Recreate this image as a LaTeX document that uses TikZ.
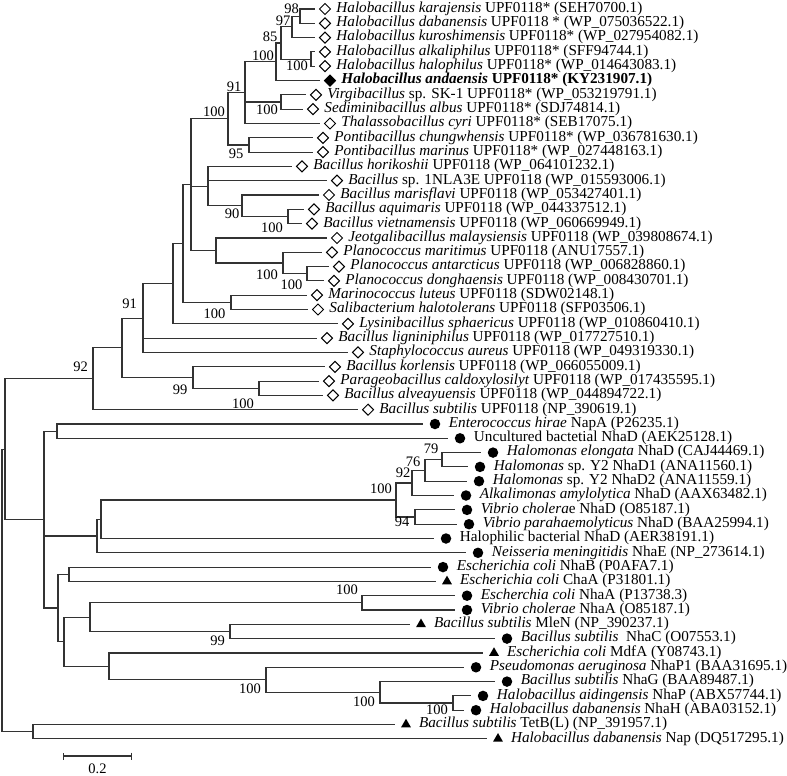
\documentclass[tikz,border=0pt]{standalone}
\usepackage{fontspec}
\setmainfont{Liberation Serif}
\usepackage{tikz}
\usetikzlibrary{arrows.meta,positioning,shapes.geometric}

\begin{document}
\begin{tikzpicture}[x=1pt,y=-1pt,
    treeline/.style={line width=1.1pt,draw=black!80},
    leafdia/.style={regular polygon,regular polygon sides=4,shape border rotate=45,draw=black,line width=1pt,fill=white,inner sep=0pt,minimum size=11pt,outer sep=3pt},
    leafdiaf/.style={leafdia,fill=black},
    leafdot/.style={circle,fill=black,inner sep=0pt,minimum size=10.5pt,outer sep=7pt},
    leaftri/.style={regular polygon,regular polygon sides=3,fill=black,inner sep=0pt,minimum size=11.5pt,outer sep=7pt},
    leaftext/.style={anchor=west,inner sep=1.5pt,text height=10pt,text depth=3.3pt,font=\fontsize{15.2pt}{16.5pt}\selectfont},
    boot/.style={inner sep=0pt,font=\fontsize{14.5pt}{16pt}\selectfont}]
    \useasboundingbox (0,0) rectangle (787,776);

    % UPF0118 leaves
    \node[leafdia] (l1) at (325,9.0) {};
    \node[leaftext,right=0pt of l1] (t1) {\textit{Halobacillus karajensis} UPF0118* (SEH70700.1)};
    \node[leafdia] (l2) at (325,23.3) {};
    \node[leaftext,right=0pt of l2] (t2) {\textit{Halobacillus dabanensis} UPF0118 * (WP\_075036522.1)};
    \node[leafdia] (l3) at (325,37.6) {};
    \node[leaftext,right=0pt of l3] (t3) {\textit{Halobacillus kuroshimensis} UPF0118* (WP\_027954082.1)};
    \node[leafdia] (l4) at (325,51.9) {};
    \node[leaftext,right=0pt of l4] (t4) {\textit{Halobacillus alkaliphilus} UPF0118* (SFF94744.1)};
    \node[leafdia] (l5) at (325,66.2) {};
    \node[leaftext,right=0pt of l5] (t5) {\textit{Halobacillus halophilus} UPF0118* (WP\_014643083.1)};
    \node[leafdiaf] (l6) at (330,80.6) {};
    \node[leaftext,right=0pt of l6] (t6) {\textbf{\textit{Halobacillus andaensis} UPF0118* (KY231907.1)}};
    \node[leafdia] (l7) at (316,94.9) {};
    \node[leaftext,right=0pt of l7] (t7) {\textit{Virgibacillus} sp. SK-1 UPF0118* (WP\_053219791.1)};
    \node[leafdia] (l8) at (313,109.2) {};
    \node[leaftext,right=0pt of l8] (t8) {\textit{Sediminibacillus albus} UPF0118* (SDJ74814.1)};
    \node[leafdia] (l9) at (330,123.5) {};
    \node[leaftext,right=0pt of l9] (t9) {\textit{Thalassobacillus cyri} UPF0118* (SEB17075.1)};
    \node[leafdia] (l10) at (323,137.8) {};
    \node[leaftext,right=0pt of l10] (t10) {\textit{Pontibacillus chungwhensis} UPF0118* (WP\_036781630.1)};
    \node[leafdia] (l11) at (323,152.1) {};
    \node[leaftext,right=0pt of l11] (t11) {\textit{Pontibacillus marinus} UPF0118* (WP\_027448163.1)};
    \node[leafdia] (l12) at (302,166.4) {};
    \node[leaftext,right=0pt of l12] (t12) {\textit{Bacillus horikoshii} UPF0118 (WP\_064101232.1)};
    \node[leafdia] (l13) at (337,180.7) {};
    \node[leaftext,right=0pt of l13] (t13) {\textit{Bacillus} sp. 1NLA3E UPF0118 (WP\_015593006.1)};
    \node[leafdia] (l14) at (329,195.0) {};
    \node[leaftext,right=0pt of l14] (t14) {\textit{Bacillus marisflavi} UPF0118 (WP\_053427401.1)};
    \node[leafdia] (l15) at (314,209.3) {};
    \node[leaftext,right=0pt of l15] (t15) {\textit{Bacillus aquimaris} UPF0118 (WP\_044337512.1)};
    \node[leafdia] (l16) at (312,223.7) {};
    \node[leaftext,right=0pt of l16] (t16) {\textit{Bacillus vietnamensis} UPF0118 (WP\_060669949.1)};
    \node[leafdia] (l17) at (337,238.0) {};
    \node[leaftext,right=0pt of l17] (t17) {\textit{Jeotgalibacillus malaysiensis} UPF0118 (WP\_039808674.1)};
    \node[leafdia] (l18) at (332,252.3) {};
    \node[leaftext,right=0pt of l18] (t18) {\textit{Planococcus maritimus} UPF0118 (ANU17557.1)};
    \node[leafdia] (l19) at (339,266.6) {};
    \node[leaftext,right=0pt of l19] (t19) {\textit{Planococcus antarcticus} UPF0118 (WP\_006828860.1)};
    \node[leafdia] (l20) at (334,280.9) {};
    \node[leaftext,right=0pt of l20] (t20) {\textit{Planococcus donghaensis} UPF0118 (WP\_008430701.1)};
    \node[leafdia] (l21) at (317,295.2) {};
    \node[leaftext,right=0pt of l21] (t21) {\textit{Marinococcus luteus} UPF0118 (SDW02148.1)};
    \node[leafdia] (l22) at (318,309.5) {};
    \node[leaftext,right=0pt of l22] (t22) {\textit{Salibacterium halotolerans} UPF0118 (SFP03506.1)};
    \node[leafdia] (l23) at (348,323.8) {};
    \node[leaftext,right=0pt of l23] (t23) {\textit{Lysinibacillus sphaericus} UPF0118 (WP\_010860410.1)};
    \node[leafdia] (l24) at (327,338.1) {};
    \node[leaftext,right=0pt of l24] (t24) {\textit{Bacillus ligniniphilus} UPF0118 (WP\_017727510.1)};
    \node[leafdia] (l25) at (358,352.4) {};
    \node[leaftext,right=0pt of l25] (t25) {\textit{Staphylococcus aureus} UPF0118 (WP\_049319330.1)};
    \node[leafdia] (l26) at (335,366.8) {};
    \node[leaftext,right=0pt of l26] (t26) {\textit{Bacillus korlensis} UPF0118 (WP\_066055009.1)};
    \node[leafdia] (l27) at (329,381.1) {};
    \node[leaftext,right=0pt of l27] (t27) {\textit{Parageobacillus caldoxylosilyt} UPF0118 (WP\_017435595.1)};
    \node[leafdia] (l28) at (333,395.4) {};
    \node[leaftext,right=0pt of l28] (t28) {\textit{Bacillus alveayuensis} UPF0118 (WP\_044894722.1)};
    \node[leafdia] (l29) at (368,409.7) {};
    \node[leaftext,right=0pt of l29] (t29) {\textit{Bacillus subtilis} UPF0118 (NP\_390619.1)};

    % antiporter leaves
    \node[leafdot] (l30) at (435,424.0) {};
    \node[leaftext,right=0pt of l30] (t30) {\textit{Enterococcus hirae} NapA (P26235.1)};
    \node[leafdot] (l31) at (460,438.3) {};
    \node[leaftext,right=0pt of l31] (t31) {Uncultured bactetial NhaD (AEK25128.1)};
    \node[leafdot] (l32) at (493,452.6) {};
    \node[leaftext,right=0pt of l32] (t32) {\textit{Halomonas elongata} NhaD (CAJ44469.1)};
    \node[leafdot] (l33) at (480,466.9) {};
    \node[leaftext,right=0pt of l33] (t33) {\textit{Halomonas} sp. Y2 NhaD1 (ANA11560.1)};
    \node[leafdot] (l34) at (479,481.2) {};
    \node[leaftext,right=0pt of l34] (t34) {\textit{Halomonas} sp. Y2 NhaD2 (ANA11559.1)};
    \node[leafdot] (l35) at (466,495.5) {};
    \node[leaftext,right=0pt of l35] (t35) {\textit{Alkalimonas amylolytica} NhaD (AAX63482.1)};
    \node[leafdot] (l36) at (467,509.9) {};
    \node[leaftext,right=0pt of l36] (t36) {\textit{Vibrio cholera}e NhaD (O85187.1)};
    \node[leafdot] (l37) at (469,524.2) {};
    \node[leaftext,right=0pt of l37] (t37) {\textit{Vibrio parahaemolyticus} NhaD (BAA25994.1)};
    \node[leafdot] (l38) at (446,538.5) {};
    \node[leaftext,right=0pt of l38] (t38) {Halophilic bacterial NhaD (AER38191.1)};
    \node[leafdot] (l39) at (478,552.8) {};
    \node[leaftext,right=0pt of l39] (t39) {\textit{Neisseria meningitidis} NhaE (NP\_273614.1)};
    \node[leafdot] (l40) at (443,567.1) {};
    \node[leaftext,right=0pt of l40] (t40) {\textit{Escherichia coli} NhaB (P0AFA7.1)};
    \node[leaftri] (l41) at (447,581.4) {};
    \node[leaftext,right=0pt of l41] (t41) {\textit{Escherichia coli} ChaA (P31801.1)};
    \node[leafdot] (l42) at (467,595.7) {};
    \node[leaftext,right=0pt of l42] (t42) {\textit{Escherchia coli} NhaA (P13738.3)};
    \node[leafdot] (l43) at (467,610.0) {};
    \node[leaftext,right=0pt of l43] (t43) {\textit{Vibrio cholerae} NhaA (O85187.1)};
    \node[leaftri] (l44) at (421,624.3) {};
    \node[leaftext,right=0pt of l44] (t44) {\textit{Bacillus subtilis} MleN (NP\_390237.1)};
    \node[leafdot] (l45) at (507,638.6) {};
    \node[leaftext,right=0pt of l45] (t45) {\textit{Bacillus subtilis}~ NhaC (O07553.1)};
    \node[leaftri] (l46) at (494,653.0) {};
    \node[leaftext,right=0pt of l46] (t46) {\textit{Escherichia coli} MdfA (Y08743.1)};
    \node[leafdot] (l47) at (476,667.3) {};
    \node[leaftext,right=0pt of l47] (t47) {\textit{Pseudomonas aeruginosa} NhaP1 (BAA31695.1)};
    \node[leafdot] (l48) at (507,681.6) {};
    \node[leaftext,right=0pt of l48] (t48) {\textit{Bacillus subtilis} NhaG (BAA89487.1)};
    \node[leafdot] (l49) at (483,695.9) {};
    \node[leaftext,right=0pt of l49] (t49) {\textit{Halobacillus aidingensis} NhaP (ABX57744.1)};
    \node[leafdot] (l50) at (476,710.2) {};
    \node[leaftext,right=0pt of l50] (t50) {\textit{Halobacillus dabanensis} NhaH (ABA03152.1)};
    \node[leaftri] (l51) at (406,724.5) {};
    \node[leaftext,right=0pt of l51] (t51) {\textit{Bacillus subtilis} TetB(L) (NP\_391957.1)};
    \node[leaftri] (l52) at (498,738.8) {};
    \node[leaftext,right=0pt of l52] (t52) {\textit{Halobacillus dabanensis} Nap (DQ517295.1)};

    % internal nodes
    \coordinate (a98) at (300,16.2);
    \coordinate (a97) at (292,26.9);
    \coordinate (a100h) at (311,59.1);
    \coordinate (a85) at (281,43.0);
    \coordinate (a100a) at (276,61.8);
    \coordinate (a100v) at (281,102.0);
    \coordinate (a91) at (245,92.6);
    \coordinate (a95) at (249,145.0);
    \coordinate (a100p) at (228,118.8);
    \coordinate (a100q) at (288,216.5);
    \coordinate (a90) at (242,205.8);
    \coordinate (bh) at (208,186.1);
    \coordinate (a100r) at (307,273.7);
    \coordinate (a100s) at (283,263.0);
    \coordinate (bj) at (216,250.5);
    \coordinate (a100t) at (191,184.7);
    \coordinate (a100m) at (231,302.4);
    \coordinate (bm) at (183,243.5);
    \coordinate (bl) at (173,283.7);
    \coordinate (a91b) at (143,318.1);
    \coordinate (a100k) at (259,388.2);
    \coordinate (a99) at (193,377.5);
    \coordinate (bk) at (122,347.8);
    \coordinate (a92) at (93,378.7);
    \coordinate (be) at (57,431.1);
    \coordinate (b79) at (442,459.8);
    \coordinate (b76) at (425,470.5);
    \coordinate (b92) at (412,483.0);
    \coordinate (b94) at (415,517.0);
    \coordinate (b100) at (396,500.0);
    \coordinate (bn) at (101,519.2);
    \coordinate (bo) at (97,536.0);
    \coordinate (bc) at (69,574.2);
    \coordinate (c100) at (362,602.9);
    \coordinate (c99) at (230,631.5);
    \coordinate (ca) at (90,617.2);
    \coordinate (c100b) at (453,703.0);
    \coordinate (c100c) at (380,692.3);
    \coordinate (c100d) at (266,679.8);
    \coordinate (cm) at (109,666.4);
    \coordinate (cb) at (64,641.8);
    \coordinate (cc) at (58,608.0);
    \coordinate (bb) at (44,519.6);
    \coordinate (r1) at (5,449.1);
    \coordinate (ct) at (33,731.7);
    \coordinate (root) at (2,590.4);

    % branches
    \draw[treeline] (a98) |- (l1) (a98) |- (l2);
    \draw[treeline] (a97) |- (a98) (a97) |- (l3);
    \draw[treeline] (a100h) |- (l4) (a100h) |- (l5);
    \draw[treeline] (a85) |- (a97) (a85) |- (a100h);
    \draw[treeline] (a100a) |- (a85) (a100a) |- (l6);
    \draw[treeline] (a100v) |- (l7) (a100v) |- (l8);
    \draw[treeline] (a91) |- (a100a) (a91) |- (a100v) (a91) |- (l9);
    \draw[treeline] (a95) |- (l10) (a95) |- (l11);
    \draw[treeline] (a100p) |- (a91) (a100p) |- (a95);
    \draw[treeline] (a100q) |- (l15) (a100q) |- (l16);
    \draw[treeline] (a90) |- (l14) (a90) |- (a100q);
    \draw[treeline] (bh) |- (l12) (bh) |- (l13) (bh) |- (a90);
    \draw[treeline] (a100r) |- (l19) (a100r) |- (l20);
    \draw[treeline] (a100s) |- (l18) (a100s) |- (a100r);
    \draw[treeline] (bj) |- (l17) (bj) |- (a100s);
    \draw[treeline] (a100t) |- (a100p) (a100t) |- (bh) (a100t) |- (bj);
    \draw[treeline] (a100m) |- (l21) (a100m) |- (l22);
    \draw[treeline] (bm) |- (a100t) (bm) |- (a100m);
    \draw[treeline] (bl) |- (bm) (bl) |- (l23);
    \draw[treeline] (a91b) |- (bl) (a91b) |- (l24) (a91b) |- (l25);
    \draw[treeline] (a100k) |- (l27) (a100k) |- (l28);
    \draw[treeline] (a99) |- (l26) (a99) |- (a100k);
    \draw[treeline] (bk) |- (a91b) (bk) |- (a99);
    \draw[treeline] (a92) |- (bk) (a92) |- (l29);
    \draw[treeline] (be) |- (l30) (be) |- (l31);
    \draw[treeline] (b79) |- (l32) (b79) |- (l33);
    \draw[treeline] (b76) |- (b79) (b76) |- (l34);
    \draw[treeline] (b92) |- (b76) (b92) |- (l35);
    \draw[treeline] (b94) |- (l36) (b94) |- (l37);
    \draw[treeline] (b100) |- (b92) (b100) |- (b94);
    \draw[treeline] (bn) |- (b100) (bn) |- (l38);
    \draw[treeline] (bo) |- (bn) (bo) |- (l39);
    \draw[treeline] (bc) |- (l40) (bc) |- (l41);
    \draw[treeline] (c100) |- (l42) (c100) |- (l43);
    \draw[treeline] (c99) |- (l44) (c99) |- (l45);
    \draw[treeline] (ca) |- (c100) (ca) |- (c99);
    \draw[treeline] (c100b) |- (l49) (c100b) |- (l50);
    \draw[treeline] (c100c) |- (l48) (c100c) |- (c100b);
    \draw[treeline] (c100d) |- (l47) (c100d) |- (c100c);
    \draw[treeline] (cm) |- (l46) (cm) |- (c100d);
    \draw[treeline] (cb) |- (ca) (cb) |- (cm);
    \draw[treeline] (cc) |- (bc) (cc) |- (cb);
    \draw[treeline] (bb) |- (be) (bb) |- (bo) (bb) |- (cc);
    \draw[treeline] (r1) |- (a92) (r1) |- (bb);
    \draw[treeline] (ct) |- (l51) (ct) |- (l52);
    \draw[treeline] (root) |- (r1) (root) |- (ct);

    % bootstrap values
    \node[boot] (s98) at (291.5,8.5) {98};
    \node[boot] (s97) at (283,21) {97};
    \node[boot] (s85) at (270,37) {85};
    \node[boot] (s100h) at (297,66) {100};
    \node[boot] (s100a) at (263,56) {100};
    \node[boot] (s91) at (234,87) {91};
    \node[boot] (s100v) at (267,110) {100};
    \node[boot] (s100p) at (214,112) {100};
    \node[boot] (s95) at (236,154) {95};
    \node[boot] (s90) at (232,214) {90};
    \node[boot] (s100q) at (272,228) {100};
    \node[boot] (s100s) at (267,275) {100};
    \node[boot] (s100r) at (291.5,285) {100};
    \node[boot] (s100m) at (214.5,314) {100};
    \node[boot] (s91b) at (129.5,304) {91};
    \node[boot] (s92) at (80.5,367) {92};
    \node[boot] (s99) at (180,390) {99};
    \node[boot] (s100k) at (243,404) {100};
    \node[boot] (sb100) at (381,489) {100};
    \node[boot] (sb92) at (403,473) {92};
    \node[boot] (sb76) at (413,462) {76};
    \node[boot] (sb79) at (431,449) {79};
    \node[boot] (sb94) at (402,522) {94};
    \node[boot] (sc100) at (347,590) {100};
    \node[boot] (sc99) at (217.5,641) {99};
    \node[boot] (sc100d) at (250,689) {100};
    \node[boot] (sc100c) at (364,702) {100};
    \node[boot] (sc100b) at (437,709.5) {100};

    % scale bar
    \coordinate (sbl) at (63,756);
    \coordinate (sbr) at (132,756);
    \draw[treeline,{Bar[width=7pt]}-{Bar[width=7pt]}] (sbl) -- (sbr);
    \node[boot] (sbt) at (97.5,768.5) {0.2};
  \end{tikzpicture}
\end{document}
